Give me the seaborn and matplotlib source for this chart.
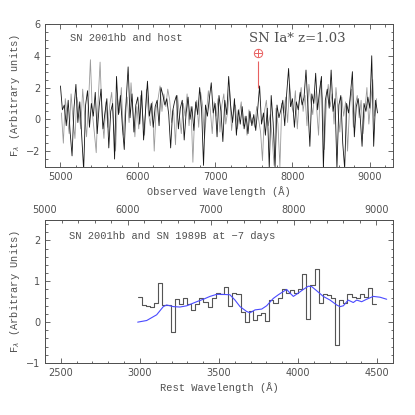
import matplotlib
matplotlib.use("Agg")
import matplotlib.pyplot as plt
import seaborn as sns
import numpy as np
from matplotlib.ticker import MultipleLocator

# observed spectrum of SN 2001hb + host (two interleaved samplings)
obs_wave_black = np.arange(5000, 9101, 25)
obs_flux_black = [
    2.1, 0.6, 0.9, -0.4, 1.2, -0.8, -2.3, 0.7, 2.2, -0.2, 1.1, -1.0, -3.2, 0.9, 1.8, -0.5, 1.0, 0.2, 1.7, -0.9,
    0.8, 1.9, -0.6, 0.4, 1.3, -1.8, 0.5, 1.0, -2.5, 2.7, 0.3, 1.5, -0.4, -1.9, 1.2, 3.3, 0.1, 1.6, -0.8, 0.9,
    1.4, -0.3, 1.8, -1.3, 0.6, 2.4, 0.2, 1.0, -0.5, 0.8, 1.2, -0.4, 2.0, 1.5, 0.9, 1.3, 0.3, -1.8, 0.5, 1.1,
    1.5, -0.6, 0.7, 1.2, -1.3, 0.4, 1.4, 0.0, 0.8, -0.7, 1.1, 0.3, 2.0, 0.6, -2.9, 0.9, 0.2, 1.3, 2.3, 0.4,
    1.0, -1.1, 1.5, 0.5, -1.4, 1.2, 0.3, 2.7, 0.9, -0.2, 1.3, -1.0, 0.6, -0.3, 0.8, -0.6, 0.2, -0.9, 0.5, -0.4,
    0.3, -0.7, 0.6, 2.1, -0.3, 0.4, -1.0, 0.7, -3.1, 1.5, -0.2, -3.0, 0.9, 0.1, 0.6, 1.2, -0.4, 1.6, 3.2, 0.8,
    1.3, -0.5, 1.1, 0.6, 1.7, 0.9, 1.4, 3.1, 0.8, -1.7, 1.6, 1.0, 2.9, 0.6, 1.8, 2.7, -3.1, 1.2, 1.9, 0.7,
    3.1, 0.5, 1.3, -3.1, 0.9, 1.5, -1.5, -3.1, 1.0, 0.4, 1.6, 3.0, -1.1, 0.8, 1.3, 0.2, -1.7, 1.0, 0.5, 1.4,
    0.7, 4.0, -1.7, 1.2, 0.4,
]
obs_wave_gray = np.arange(5012.5, 9100, 25)
obs_flux_gray = [
    0.4, -1.5, 1.3, 0.2, -0.9, 1.6, 0.0, -1.2, 1.4, 0.6, -0.6, 1.9, 0.3, -1.1, 1.0, 3.75, 0.4, -0.8, -2.1, 1.2,
    3.6, 0.2, -1.2, 1.1, -0.5, 0.9, 1.7, -0.3, -2.0, 1.3, 0.4, 2.0, -1.0, 0.6, 1.4, -0.2, 2.3, 0.5, -1.1, 0.8,
    -0.6, 1.5, 0.3, -1.0, 1.9, 0.4, -0.4, 1.1, -2.0, 0.7, 1.3, 2.1, 0.5, 1.6, 0.8, 1.9, 1.2, -0.2, 0.6, -1.6,
    1.5, 0.3, -0.9, 1.0, 0.2, 1.6, -0.4, 0.8, -2.7, 0.5, 1.2, -0.5, 1.7, 0.9, -1.2, 0.4, 1.8, 0.6, -0.9, 1.1,
    0.2, 1.3, -0.8, 0.9, 1.6, -0.3, 0.5, 1.9, -0.7, 0.4, 0.9, -0.6, 0.3, 1.1, -0.4, 0.2, -1.0, 0.6, -0.2, 0.1,
    -0.5, 0.8, 0.0, -0.8, -2.6, 0.5, 1.2, -0.4, 0.3, -1.2, -2.9, 0.7, -0.3, -3.0, 1.0, 0.4, 1.4, -0.2, 2.2, 0.9,
    0.4, 1.8, -0.6, 1.2, 2.0, 0.5, 1.5, -0.4, 2.2, 1.1, 0.3, 1.8, 0.7, -1.0, 2.4, 1.3, -1.9, 1.0, 2.2, 0.8,
    1.6, -0.3, 2.0, 0.6, -0.8, 1.4, 0.2, 1.1, -2.0, 0.7, 1.9, -0.5, 0.9, 1.5, 0.1, 1.2, -0.9, 0.6, 2.0, -0.3,
    1.1, 2.5, 0.2, 1.3,
]

# telluric A-band marker
tell_wave = 7560
tell_symbol_y = 4.17
tell_line = (1.96, 3.64)

# binned SN 2001hb in rest frame
bin_start = 2986
bin_width = 26
binned_flux = [
    0.61, 0.42, 0.40, 0.37, 0.48, 0.95, 0.41, 0.41, -0.23, 0.57,
    0.45, 0.60, 0.45, 0.30, 0.45, 0.60, 0.50, 0.37, 0.60, 0.72,
    0.68, 0.87, 0.40, 0.72, 0.70, 0.25, 0.00, 0.28, 0.05, 0.17,
    0.22, 0.04, 0.55, 0.48, 0.60, 0.82, 0.72, 0.78, 0.72, 0.82,
    1.18, 0.07, 0.92, 1.29, 0.46, 0.70, 0.66, 0.60, -0.57, 0.55,
    0.47, 0.68, 0.62, 0.58, 0.68, 0.62, 0.83, 0.44,
]

# SN 1989B template at -7 days
tmpl_wave = [2986, 3043, 3106, 3148, 3169, 3211, 3253, 3296, 3359, 3401, 3443, 3485, 3517, 3569,
             3601, 3633, 3675, 3696, 3728, 3770, 3801, 3843, 3875, 3907, 3928, 3949, 3970, 4001,
             4033, 4065, 4086, 4117, 4159, 4202, 4244, 4265, 4286, 4317, 4349, 4370, 4402, 4433,
             4475, 4518, 4560]
tmpl_flux = [0.00, 0.04, 0.18, 0.38, 0.42, 0.38, 0.37, 0.40, 0.50, 0.56, 0.63, 0.68, 0.68, 0.67,
             0.54, 0.38, 0.26, 0.23, 0.30, 0.32, 0.40, 0.58, 0.67, 0.75, 0.80, 0.71, 0.63, 0.71,
             0.80, 0.88, 0.87, 0.77, 0.63, 0.54, 0.42, 0.38, 0.40, 0.54, 0.48, 0.54, 0.50, 0.56,
             0.63, 0.61, 0.56]

sns.set_style("ticks")
fg = "#505050"
plt.rcParams.update({
    "font.family": ["DejaVu Sans"],
    "axes.edgecolor": fg, "axes.labelcolor": fg, "text.color": fg,
    "xtick.color": fg, "ytick.color": fg,
    "xtick.direction": "in", "ytick.direction": "in",
    "xtick.top": True, "ytick.right": True,
    "xtick.labelsize": 7, "ytick.labelsize": 7,
    "xtick.major.size": 3.6, "ytick.major.size": 3.6,
    "xtick.minor.size": 1.8, "ytick.minor.size": 1.8,
    "xtick.major.width": 0.6, "ytick.major.width": 0.6,
    "xtick.minor.width": 0.6, "ytick.minor.width": 0.6,
    "axes.linewidth": 0.7,
})
mono = "Liberation Mono"

fig = plt.figure(figsize=(4.15, 4.15), dpi=100)
ax1 = fig.add_axes([0.1084, 0.5976, 0.8386, 0.3446])
ax2 = fig.add_axes([0.1084, 0.1253, 0.8386, 0.3446])

sns.lineplot(x=obs_wave_gray, y=obs_flux_gray, ax=ax1, color="#9a9a9a", lw=0.6,
             estimator=None, sort=False)
sns.lineplot(x=obs_wave_black, y=obs_flux_black, ax=ax1, color="#151515", lw=0.6,
             estimator=None, sort=False)
ax1.plot([tell_wave], [tell_symbol_y], marker="o", ms=6, mfc="none", mec="#e86060", mew=0.7)
ax1.plot([tell_wave], [tell_symbol_y], marker="+", ms=6, mec="#e86060", mew=0.7)
ax1.vlines(tell_wave, *tell_line, color="#e86060", lw=0.8)

ax1.set_xlim(4800, 9300)
ax1.set_ylim(-3, 6)
ax1.xaxis.set_major_locator(MultipleLocator(1000))
ax1.xaxis.set_minor_locator(MultipleLocator(200))
ax1.yaxis.set_major_locator(MultipleLocator(2))
ax1.yaxis.set_minor_locator(MultipleLocator(0.5))
ax1.set_xlabel("Observed Wavelength (Å)", family=mono, fontsize=7.5, labelpad=3)
ax1.set_ylabel(r"F$_\lambda$ (Arbitrary units)", family=mono, fontsize=7.5, labelpad=3)
ax1.text(0.072, 0.90, "SN 2001hb and host", transform=ax1.transAxes, family=mono,
         fontsize=7.5, va="center")
ax1.text(0.585, 0.90, "SN Ia* z=1.03", transform=ax1.transAxes, family="DejaVu Serif",
         fontsize=9.5, va="center")

edges = bin_start + bin_width * np.arange(len(binned_flux) + 1)
step_y = binned_flux + [binned_flux[-1]]
sns.lineplot(x=edges, y=step_y, ax=ax2, color="#555555", lw=0.8, drawstyle="steps-post",
             estimator=None, sort=False)
sns.lineplot(x=tmpl_wave, y=tmpl_flux, ax=ax2, color="#4a4aff", lw=0.8,
             estimator=None, sort=False)

ax2.set_xlim(2400, 4600)
ax2.set_ylim(-1, 2.5)
ax2.xaxis.set_major_locator(MultipleLocator(500))
ax2.xaxis.set_minor_locator(MultipleLocator(100))
ax2.yaxis.set_major_locator(MultipleLocator(1))
ax2.yaxis.set_minor_locator(MultipleLocator(0.2))
ax2.tick_params(axis="x", top=False)
ax2.set_xlabel("Rest Wavelength (Å)", family=mono, fontsize=7.5, labelpad=3)
ax2.set_ylabel(r"F$_\lambda$ (Arbitrary Units)", family=mono, fontsize=7.5, labelpad=3)
ax2.text(0.07, 0.888, "SN 2001hb and SN 1989B at \u22127 days", transform=ax2.transAxes,
         family=mono, fontsize=7.5, va="center")

top = ax2.twiny()
top.set_xlim(5000, 9200)
top.xaxis.set_major_locator(MultipleLocator(1000))
top.xaxis.set_minor_locator(MultipleLocator(200))
top.tick_params(axis="x", which="both", direction="in", top=True, bottom=False, labelsize=7)
for s in top.spines.values():
    s.set_color(fg)

fig.savefig("out.png", dpi=100)
